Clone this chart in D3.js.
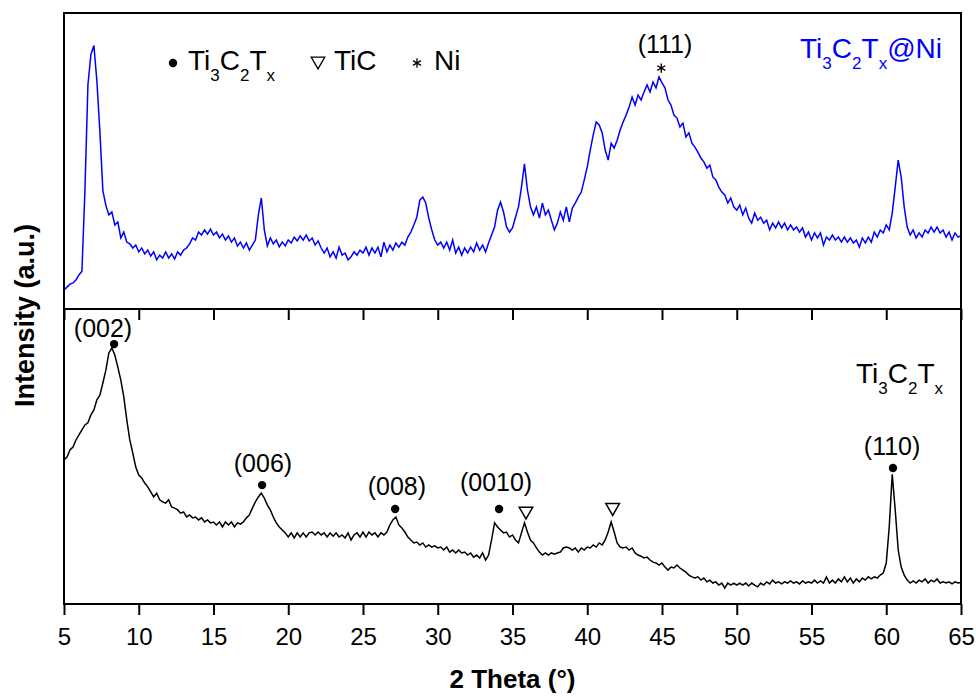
<!DOCTYPE html>
<html>
<head>
<meta charset="utf-8">
<script src="https://cdn.jsdelivr.net/npm/d3@7"></script>
<style>
  body { margin: 0; background: #fff; }
  text { font-family: "Liberation Sans", Arial, sans-serif; }
</style>
</head>
<body>
<script>
// scan grid: 5 to 65 deg, 0.2 deg step
const scanStart = 5, scanStep = 0.2;

// Ti3C2Tx@Ni (top, blue), intensity a.u.
const niIntensity = [
  6.4, 7.4, 8.4, 8.8, 9.8, 11.5, 12.8, 40, 75.7, 86,
  89, 77, 60, 40, 35, 31.8, 32.8, 28.4, 29.4, 24,
  26, 22.6, 22, 20.6, 21.6, 19.3, 20.6, 18.6, 19.9, 17.9,
  19.3, 16.6, 18.2, 17.2, 19.3, 17.2, 18.6, 16.9, 19.3, 18.2,
  19.9, 20.6, 22, 24, 23.3, 26, 25, 26.7, 25.3, 27,
  25, 26, 24, 25.3, 23.3, 24.7, 22.6, 24, 21.3, 22.6,
  20.6, 22.3, 19.9, 21.6, 23.3, 31.8, 37.5, 26.7, 21.3, 24,
  22, 23.3, 21, 22.6, 21.3, 23.3, 22.3, 24.3, 23, 24.7,
  23.3, 25, 23, 24, 21.6, 23, 20.6, 18.9, 20.6, 17.6,
  19.3, 17.2, 20.9, 18.2, 18.9, 16.6, 17.6, 19.3, 18.2, 19.9,
  18.9, 20.9, 18.2, 20.6, 18.9, 20.9, 17.6, 22.6, 19.3, 21.6,
  19.9, 22.3, 20.9, 22.6, 21.6, 24.3, 26, 28.4, 31, 36.8,
  37.8, 35.8, 30.7, 26.7, 23.3, 21.6, 22.6, 20.6, 22.6, 19.9,
  23.3, 18.9, 20.9, 18.2, 20.6, 18.9, 20.9, 19.3, 22.3, 19.9,
  21.6, 19.3, 22.3, 25, 27.7, 33.4, 36.1, 32.8, 27.7, 26,
  27.4, 31, 34.5, 41.2, 49, 40.2, 34.5, 31.8, 34.5, 30.7,
  35.8, 31.8, 33.4, 30, 26.7, 29, 32.8, 30, 34.5, 29.4,
  34.1, 35.8, 37.8, 39.5, 43.6, 48, 53.7, 58.8, 63.2, 62.2,
  59.5, 53.7, 50.3, 56, 54.4, 57, 60.5, 63.2, 65.5, 68.2,
  71.6, 68.9, 72.3, 70.6, 73.3, 75.7, 73.3, 76.7, 74.7, 78.4,
  76.4, 74.7, 70.6, 68.9, 65.5, 64.5, 61.5, 62.8, 58.1, 59.5,
  56, 54.7, 53, 51, 49.7, 47.6, 48.6, 44.6, 43.6, 41.2,
  39.5, 38.5, 35.8, 37.5, 34.5, 33.4, 35.1, 31.8, 34.1, 30.7,
  29, 32.4, 30, 31, 29, 30, 26.7, 29, 27.4, 29.4,
  27.4, 29, 26.7, 28.4, 26.7, 27.7, 26, 27.4, 24.3, 26,
  23.3, 25.7, 24, 25.7, 21.6, 24.3, 23.3, 25, 23.3, 24.3,
  22.6, 24.3, 22.6, 24, 22.3, 23.3, 20.9, 24, 22.3, 24.3,
  22.6, 26, 24.3, 26.7, 25.7, 28.4, 26.7, 32.4, 41.2, 50.3,
  44.6, 34.5, 27.7, 25, 26.7, 24, 25.7, 24.3, 26.7, 25.7,
  27.7, 26, 27.7, 25.7, 26.7, 24.3, 26, 23.3, 25.7, 24.3,
  24.8
];

// Ti3C2Tx (bottom, black)
const mxIntensity = [
  48.8, 49.8, 52.2, 53.2, 55.6, 57.3, 59, 60.7, 61.4, 64.1,
  65.8, 69.2, 70.8, 74.9, 79.3, 85.1, 86.8, 84.4, 80.3, 75.9,
  70.2, 62.4, 55.6, 51.2, 46.4, 43.7, 42.7, 41, 39.7, 38,
  36.3, 37.6, 35.3, 34.6, 34.2, 35.3, 32.9, 32.5, 31.9, 30.8,
  31.2, 29.5, 30.2, 29.2, 29.5, 28.5, 29.2, 27.8, 28.5, 27.5,
  27.8, 26.8, 27.8, 26.1, 27.8, 26.8, 27.8, 26.1, 27.5, 27.1,
  27.8, 29.2, 30.2, 32.5, 34.6, 36.3, 37.6, 35.9, 33.6, 31.9,
  29.5, 27.5, 26.1, 25.1, 24.1, 22.7, 24.1, 22.4, 24.1, 22.7,
  24.1, 22.7, 24.1, 24.4, 23.4, 24.4, 23.4, 24.1, 22.7, 24.1,
  23, 24.1, 22.7, 23.4, 22.4, 24.1, 21.7, 23.4, 24.1, 22.7,
  24.4, 22.7, 24.4, 23.4, 24.1, 22.7, 24.1, 23.4, 24.4, 26.8,
  28.5, 29.5, 26.8, 25.8, 24.4, 22.7, 21.7, 20.7, 21, 20,
  20.7, 19.3, 20, 19.3, 19.7, 19, 19.3, 18.3, 19.3, 17.6,
  18.3, 17.3, 18.3, 17.3, 17.6, 16.6, 17.3, 15.9, 16.6, 15.6,
  17.3, 14.9, 16.6, 21.7, 27.5, 26.1, 25.1, 24.1, 24.4, 22.7,
  23.4, 21.7, 20.7, 24.1, 27.5, 24.4, 21.7, 20.7, 19, 17.6,
  16.6, 17.3, 16.6, 17.3, 16.9, 17.3, 17.6, 19, 19.3, 19,
  18.3, 19, 17.6, 19, 18.3, 19.3, 19, 20, 19.3, 20.7,
  20, 21.7, 24.4, 27.8, 24.4, 20.7, 19.3, 19, 19.3, 18.3,
  19, 17.3, 16.6, 16.2, 15.6, 15.9, 14.9, 14.2, 13.9, 13.2,
  13.9, 12.5, 11.5, 12.5, 12.2, 13.2, 12.2, 11.5, 10.8, 9.8,
  9.2, 8.8, 9.2, 8.1, 8.8, 7.5, 8.1, 7.1, 7.5, 6.4,
  7.1, 5.4, 7.1, 6.4, 7.1, 6.4, 7.1, 6.4, 7.1, 6.1,
  7.1, 6.4, 5.8, 7.1, 6.4, 7.5, 6.8, 8.1, 7.1, 7.5,
  6.8, 7.5, 7.1, 7.8, 7.1, 7.5, 6.8, 7.8, 7.1, 7.5,
  7.1, 8.1, 7.1, 7.8, 7.1, 9.2, 7.1, 8.1, 7.1, 8.5,
  7.5, 9.2, 7.5, 8.8, 7.1, 8.5, 7.5, 8.8, 8.1, 9.2,
  8.5, 9.2, 8.8, 9.8, 10.5, 13.9, 26.1, 44, 31.9, 18.3,
  12.5, 9.8, 8.1, 7.1, 7.8, 7.1, 8.1, 7.5, 8.5, 7.1,
  8.1, 7.5, 8.5, 7.1, 7.5, 7.1, 7.5, 6.8, 7.5, 7.1,
  7.3
];

const xTicks = [5, 10, 15, 20, 25, 30, 35, 40, 45, 50, 55, 60, 65];

// peak annotations, bottom panel (Ti3C2Tx reflections)
const mxPeakLabels = ["(002)", "(006)", "(008)", "(0010)", "(110)"];
const mxPeakTheta  = [8.35, 18.25, 27.15, 34.1, 60.45];
const mxPeakMark   = [88.1, 40.3, 32.2, 32.2, 46.1];
const mxLabelTheta = [7.61, 18.31, 27.27, 33.9, 60.39];
const mxLabelI     = [90.5, 44.7, 36.9, 38.3, 50.5];
// TiC peaks
const ticTheta = [35.9, 41.7];
const ticMark  = [31.5, 32.7];
// Ni (111), top panel
const niPeakLabel = "(111)";
const niPeakTheta = 44.95, niPeakMark = 81.4;
const niLabelTheta = 45.2, niLabelI = 86.5;

const twoTheta = niIntensity.map((d, i) => scanStart + i * scanStep);

//Width and height
const w = 976, h = 697;
const plotLeft = 64, plotRight = 961, plotTop = 13, plotMid = 309, plotBottom = 604;

const svg = d3.select("body").append("svg")
  .attr("width", w)
  .attr("height", h);

const x = d3.scaleLinear().domain([5, 65]).range([plotLeft, plotRight]);
const yTop = d3.scaleLinear().domain([0, 100]).range([plotMid, plotTop]);
const yBot = d3.scaleLinear().domain([0, 100]).range([plotBottom, plotMid]);

// curves
const lineTop = d3.line().x((d, i) => x(twoTheta[i])).y(d => yTop(d));
const lineBot = d3.line().x((d, i) => x(twoTheta[i])).y(d => yBot(d));

svg.append("path").attr("d", lineTop(niIntensity))
  .attr("fill", "none").attr("stroke", "#0000ff").attr("stroke-width", 1.5);
svg.append("path").attr("d", lineBot(mxIntensity))
  .attr("fill", "none").attr("stroke", "#000").attr("stroke-width", 1.5);

// frames
svg.append("rect").attr("x", plotLeft).attr("y", plotTop)
  .attr("width", plotRight - plotLeft).attr("height", plotMid - plotTop)
  .attr("fill", "none").attr("stroke", "#000").attr("stroke-width", 2);
svg.append("rect").attr("x", plotLeft).attr("y", plotMid)
  .attr("width", plotRight - plotLeft).attr("height", plotBottom - plotMid)
  .attr("fill", "none").attr("stroke", "#000").attr("stroke-width", 2);

// bottom axis
const xAxis = svg.append("g")
  .attr("transform", `translate(0,${plotBottom})`)
  .call(d3.axisBottom(x).tickValues(xTicks).tickSize(11).tickPadding(13).tickFormat(d3.format("d")));
xAxis.select(".domain").remove();
xAxis.selectAll("line").attr("stroke-width", 2);
xAxis.selectAll("text").attr("font-size", 24).attr("font-family", "Liberation Sans, Arial, sans-serif").attr("fill", "#000");

// ticks on the divider, pointing down
const midAxis = svg.append("g")
  .attr("transform", `translate(0,${plotMid})`)
  .call(d3.axisBottom(x).tickValues(xTicks).tickSize(11).tickFormat(""));
midAxis.select(".domain").remove();
midAxis.selectAll("line").attr("stroke-width", 2);

// axis titles
svg.append("text")
  .attr("x", (plotLeft + plotRight) / 2).attr("y", 688)
  .attr("text-anchor", "middle").attr("font-size", 26).attr("font-weight", "bold")
  .text("2 Theta (°)");
svg.append("text")
  .attr("transform", `translate(34,${(plotTop + plotBottom) / 2 + 7}) rotate(-90)`)
  .attr("text-anchor", "middle").attr("font-size", 27).attr("font-weight", "bold")
  .text("Intensity (a.u.)");

// formula with subscripts
function formula(g, parts, size, subSize) {
  const t = g.attr("font-size", size);
  let down = false;
  parts.forEach(p => {
    const sub = p[1];
    const ts = t.append("tspan").text(p[0]);
    if (sub && !down) { ts.attr("dy", 11).attr("font-size", subSize); down = true; }
    else if (sub) { ts.attr("font-size", subSize); }
    else if (down) { ts.attr("dy", -11); down = false; }
  });
  return t;
}
const mxParts = [["Ti", 0], ["3", 1], ["C", 0], ["2", 1], ["T", 0], ["x", 1]];

formula(svg.append("text").attr("x", 942).attr("y", 58).attr("text-anchor", "end").attr("fill", "#0000ff"),
  mxParts.concat([["@Ni", 0]]), 28, 17);
formula(svg.append("text").attr("x", 943).attr("y", 383).attr("text-anchor", "end").attr("fill", "#000"),
  mxParts, 28, 17);

// legend
const triangle = d3.symbol().type(d3.symbolTriangle).size(80);
const asterisk = d3.symbol().type(d3.symbolAsterisk || d3.symbolCross).size(60);

svg.append("circle").attr("cx", 173).attr("cy", 63).attr("r", 4.2).attr("fill", "#000");
formula(svg.append("text").attr("x", 188).attr("y", 70), mxParts, 28, 17);
svg.append("path").attr("d", triangle())
  .attr("transform", "translate(318,61) rotate(180)")
  .attr("fill", "none").attr("stroke", "#000").attr("stroke-width", 1.3);
svg.append("text").attr("x", 334).attr("y", 70).attr("font-size", 28).text("TiC");
svg.append("path").attr("d", asterisk())
  .attr("transform", "translate(417,63)")
  .attr("fill", "none").attr("stroke", "#000").attr("stroke-width", 1.3);
svg.append("text").attr("x", 434).attr("y", 70).attr("font-size", 28).text("Ni");

// peak markers
svg.selectAll(".mxdot").data(mxPeakTheta).enter().append("circle")
  .attr("cx", d => x(d)).attr("cy", (d, i) => yBot(mxPeakMark[i]))
  .attr("r", 4.2).attr("fill", "#000");
svg.selectAll(".mxlab").data(mxPeakLabels).enter().append("text")
  .attr("x", (d, i) => x(mxLabelTheta[i])).attr("y", (d, i) => yBot(mxLabelI[i]))
  .attr("text-anchor", "middle").attr("font-size", 25).text(d => d);
svg.selectAll(".tic").data(ticTheta).enter().append("path")
  .attr("d", triangle())
  .attr("transform", (d, i) => `translate(${x(d)},${yBot(ticMark[i])}) rotate(180)`)
  .attr("fill", "#fff").attr("stroke", "#000").attr("stroke-width", 1.5);

svg.append("path").attr("d", asterisk())
  .attr("transform", `translate(${x(niPeakTheta)},${yTop(niPeakMark)})`)
  .attr("fill", "none").attr("stroke", "#000").attr("stroke-width", 1.4);
svg.append("text")
  .attr("x", x(niLabelTheta)).attr("y", yTop(niLabelI))
  .attr("text-anchor", "middle").attr("font-size", 25).text(niPeakLabel);
</script>
</body>
</html>
